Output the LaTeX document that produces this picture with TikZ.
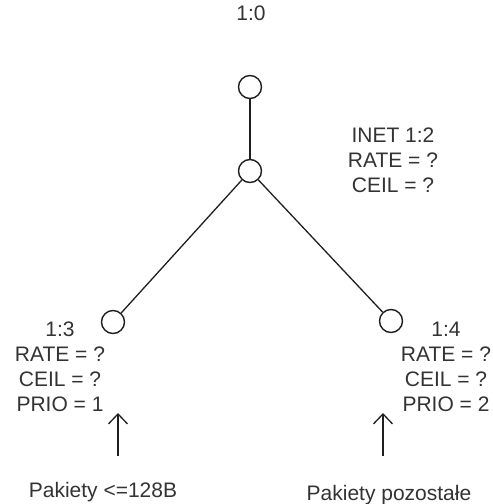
\documentclass[tikz,border=0pt]{standalone}
\usepackage{fontspec}
\setmainfont{Liberation Sans}
\usetikzlibrary{arrows.meta}
\definecolor{inkline}{gray}{0.12}
\definecolor{inktext}{gray}{0.2}
\tikzset{
  qnode/.style={circle, draw=inkline, line width=1.4pt, minimum size=23pt, inner sep=0pt, fill=white},
  branch/.style={draw=inkline, line width=1.3pt},
  info/.style={text=inktext, font=\fontsize{21}{25}\selectfont, align=center, inner sep=0pt, anchor=north},
  label/.style={text=inktext, font=\fontsize{21}{25}\selectfont, inner sep=0pt, anchor=base},
  flow/.style={draw=inkline, line width=1.3pt, -{Straight Barb[length=10pt, width=19pt, line width=1.3pt]}}
}
\begin{document}
\begin{tikzpicture}[x=1pt, y=-1pt]
  \useasboundingbox[fill=white] (0,0) rectangle (493,504);

  % class tree
  \node[qnode] (root) at (250,87) {};
  \node[qnode] (inet) at (250,171) {};
  \node[qnode] (c13) at (113,322) {};
  \node[qnode] (c14) at (391,321) {};
  \draw[branch] (root) -- (inet);
  \draw[branch] (inet) -- (c13);
  \draw[branch] (inet) -- (c14);

  % class descriptions
  \node[label] (lroot) at (251,20) {1:0};
  \node[info] (linet) at (393,128) {INET 1:2\\RATE = ?\\CEIL = ?};
  \node[info] (l13) at (60,322) {1:3\\RATE = ?\\CEIL = ?\\PRIO = 1};
  \node[info] (l14) at (446,322) {1:4\\RATE = ?\\CEIL = ?\\PRIO = 2};

  % incoming traffic
  \node[label] (small) at (103,497) {Pakiety <=128B};
  \node[label] (other) at (389,500) {Pakiety pozostałe};
  \coordinate (s0) at (118,456);
  \coordinate (s1) at (118,413);
  \coordinate (o0) at (383,456);
  \coordinate (o1) at (383,413);
  \draw[flow] (s0) -- (s1);
  \draw[flow] (o0) -- (o1);
\end{tikzpicture}
\end{document}
